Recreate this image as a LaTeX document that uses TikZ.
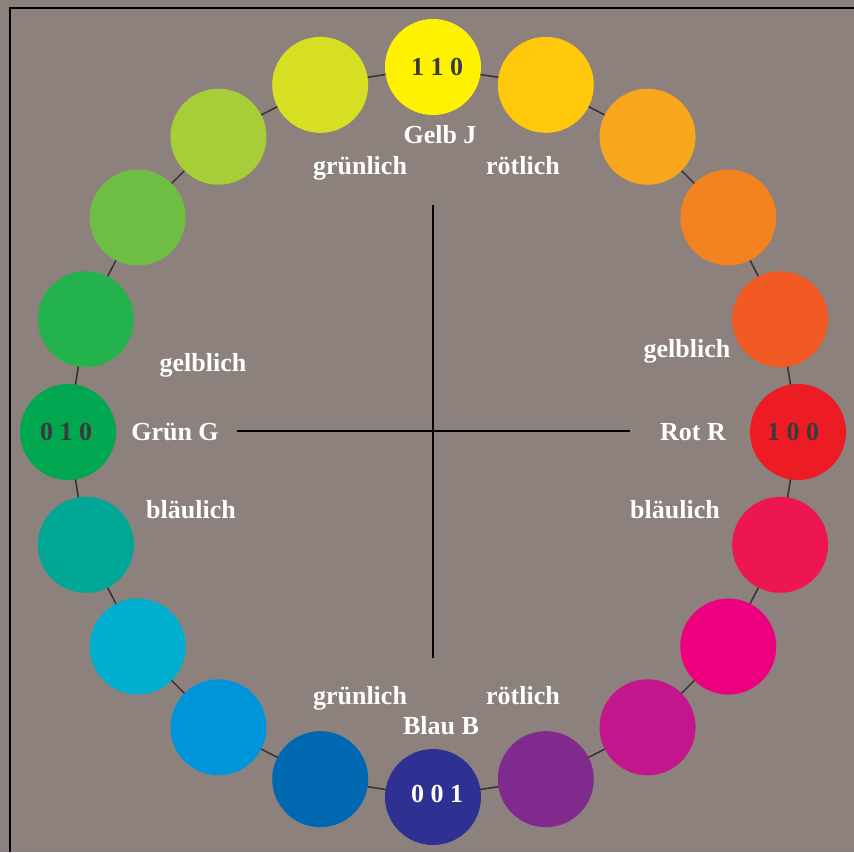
\documentclass[tikz,border=0pt]{standalone}
\usepackage{fontspec}
\setmainfont{Liberation Serif}
\usetikzlibrary{backgrounds}
\definecolor{bg}{RGB}{140,129,125}
\definecolor{ringline}{RGB}{51,51,51}
\definecolor{codetext}{RGB}{58,58,58}
\definecolor{hue0}{RGB}{255,242,0}
\definecolor{hue1}{RGB}{255,200,10}
\definecolor{hue2}{RGB}{248,166,29}
\definecolor{hue3}{RGB}{243,130,32}
\definecolor{hue4}{RGB}{241,90,34}
\definecolor{hue5}{RGB}{237,28,36}
\definecolor{hue6}{RGB}{237,22,81}
\definecolor{hue7}{RGB}{236,0,128}
\definecolor{hue8}{RGB}{196,22,140}
\definecolor{hue9}{RGB}{128,42,142}
\definecolor{hue10}{RGB}{46,49,146}
\definecolor{hue11}{RGB}{0,103,177}
\definecolor{hue12}{RGB}{0,149,218}
\definecolor{hue13}{RGB}{0,174,207}
\definecolor{hue14}{RGB}{0,167,150}
\definecolor{hue15}{RGB}{0,166,80}
\definecolor{hue16}{RGB}{36,178,76}
\definecolor{hue17}{RGB}{110,190,68}
\definecolor{hue18}{RGB}{166,206,57}
\definecolor{hue19}{RGB}{215,223,35}
\tikzset{
  disk/.style={circle,minimum size=96pt,inner sep=0pt},
  lbl/.style={text=white,anchor=base,inner sep=0pt,font=\bfseries\fontsize{26}{30}\selectfont},
  code/.style={text=codetext,inner sep=0pt,font=\bfseries\fontsize{26}{30}\selectfont}
}

\begin{document}
\begin{tikzpicture}[x=1pt,y=-1pt]
\useasboundingbox (0,0) rectangle (854,852);
\begin{scope}[on background layer]
\fill[bg] (0,0) rectangle (854,852);
\end{scope}
\draw[line width=2pt] (10,852) -- (10,8) -- (854,8);
% the twenty hues
\foreach \i in {0,...,19}
  \node[disk,fill=hue\i] (d\i) at ({433+365*cos(-90+18*\i)},{432+365*sin(-90+18*\i)}) {};
\begin{scope}[on background layer]
\foreach \i [evaluate=\i as \j using {int(mod(\i+1,20))}] in {0,...,19}
  \draw[ringline,line width=1.5pt] (d\i.center) -- (d\j.center);
\end{scope}
% axes
\coordinate (ytop) at (433,205);
\coordinate (ybot) at (433,658);
\coordinate (xlft) at (237,431);
\coordinate (xrgt) at (630,431);
\draw[line width=1.8pt] (ytop) -- (ybot);
\draw[line width=1.8pt] (xlft) -- (xrgt);
% codes
\node[code] (c110) at ([xshift=4pt]d0) {1 1 0};
\node[code] (c100) at ([xshift=-5pt]d5) {1 0 0};
\node[code,text=white] (c001) at ([xshift=4pt,yshift=3pt]d10) {0 0 1};
\node[code] (c010) at ([xshift=-2pt]d15) {0 1 0};
% labels
\node[lbl] (gelb) at (440,143) {Gelb J};
\node[lbl] (tgr) at (360,174) {grünlich};
\node[lbl] (trt) at (523,174) {rötlich};
\node[lbl] (lgb) at (203,371) {gelblich};
\node[lbl] (gruen) at (175,440) {Grün G};
\node[lbl] (lbl) at (191,518) {bläulich};
\node[lbl] (rgb) at (687,357) {gelblich};
\node[lbl] (rot) at (693,440) {Rot R};
\node[lbl] (rbl) at (675,518) {bläulich};
\node[lbl] (bgr) at (360,704) {grünlich};
\node[lbl] (brt) at (523,704) {rötlich};
\node[lbl] (blau) at (441,734) {Blau B};
\end{tikzpicture}
\end{document}
